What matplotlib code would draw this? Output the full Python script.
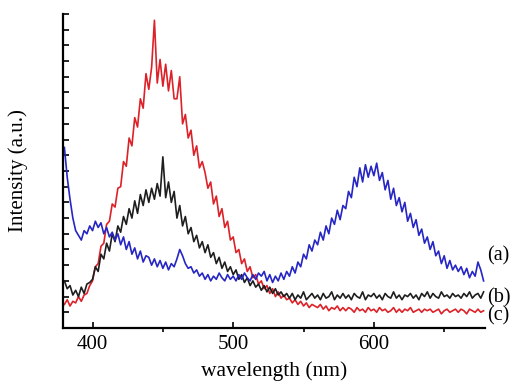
import numpy as np
import matplotlib
matplotlib.use('Agg')
import matplotlib.pyplot as plt
from matplotlib.ticker import MultipleLocator

font = {'family': 'Liberation Serif', 'size': 15}
matplotlib.rc('font', **font)

# wavelength grid, 2 nm steps (380 ... 678 nm)
wavelength = np.arange(380, 680, 2)

# (a) blue spectrum (a.u.)
spec_a = [11.5, 9.6, 8.2, 7.0, 6.2, 5.9, 5.6, 6.2, 6.0, 6.5,
          6.2, 6.8, 6.4, 6.7, 6.0, 6.4, 5.8, 6.1, 5.6, 6.0,
          5.3, 5.8, 5.0, 5.5, 4.7, 5.1, 4.4, 4.9, 4.2, 4.6,
          4.5, 4.0, 4.4, 3.9, 4.3, 3.8, 4.2, 3.7, 4.1, 3.9,
          4.4, 5.0, 4.6, 4.1, 3.8, 3.9, 3.5, 3.7, 3.3, 3.5,
          3.1, 3.4, 3.0, 3.3, 3.1, 3.5, 3.2, 3.0, 3.4, 3.1,
          3.3, 3.0, 3.4, 3.1, 3.5, 3.2, 3.0, 3.4, 3.1, 3.5,
          3.3, 3.6, 3.0, 3.4, 2.9, 3.3, 3.0, 3.5, 3.1, 3.6,
          3.3, 3.9, 3.5, 4.2, 3.9, 4.7, 4.4, 5.3, 4.9, 5.6,
          5.3, 6.1, 5.6, 6.5, 6.0, 7.0, 6.6, 7.5, 6.9, 7.8,
          7.6, 8.7, 8.3, 9.6, 9.0, 10.2, 9.3, 10.4, 9.6, 10.3,
          9.7, 10.5, 9.4, 9.9, 8.8, 9.4, 8.2, 8.9, 7.8, 8.3,
          7.4, 8.0, 6.8, 7.3, 6.4, 6.9, 5.9, 6.3, 5.4, 5.8,
          5.0, 5.5, 4.6, 4.9, 4.1, 4.6, 3.8, 4.3, 3.7, 4.0,
          3.6, 3.9, 3.4, 3.8, 3.2, 3.6, 3.3, 4.2, 3.7, 3.0]

# (b) black spectrum
spec_b = [3.0, 2.5, 2.7, 2.1, 2.4, 2.0, 2.6, 2.2, 2.8, 2.9,
          3.1, 3.9, 3.6, 4.7, 4.4, 5.4, 4.9, 6.0, 5.5, 6.5,
          6.1, 7.1, 6.6, 7.6, 7.0, 8.1, 7.3, 8.5, 7.8, 8.8,
          8.0, 8.9, 8.2, 9.2, 8.4, 10.9, 8.3, 9.3, 8.0, 8.7,
          7.0, 7.8, 6.5, 7.1, 6.0, 6.4, 5.5, 5.9, 5.1, 5.5,
          4.8, 5.3, 4.5, 4.8, 4.1, 4.5, 3.8, 4.2, 3.6, 3.9,
          3.4, 3.7, 3.1, 3.4, 2.9, 3.2, 2.7, 3.0, 2.6, 2.8,
          2.4, 2.7, 2.3, 2.6, 2.2, 2.5, 2.1, 2.3, 2.0, 2.2,
          1.9, 2.2, 1.8, 2.1, 1.9, 2.3, 1.8, 2.0, 2.2, 1.9,
          2.1, 1.8, 2.2, 1.9, 2.0, 2.3, 1.8, 2.1, 1.9, 2.2,
          1.9, 2.1, 1.8, 2.2, 2.0, 1.9, 2.3, 1.8, 2.1, 2.0,
          2.2, 1.9, 2.1, 1.8, 2.2, 2.0, 1.9, 2.3, 1.9, 2.1,
          1.8, 2.1, 2.0, 2.2, 1.9, 2.1, 1.8, 2.2, 2.0, 2.3,
          1.9, 2.2, 2.0, 1.9, 2.3, 2.0, 2.1, 1.9, 2.2, 2.0,
          2.1, 1.9, 2.2, 2.0, 2.3, 1.9, 2.1, 2.2, 1.9, 2.3]

# (c) red spectrum
spec_c = [1.5, 1.8, 1.4, 1.7, 1.6, 2.0, 1.7, 2.1, 2.2, 2.7,
          3.0, 3.9, 4.1, 5.2, 5.4, 6.6, 6.8, 7.9, 7.7, 8.9,
          9.0, 10.6, 10.3, 12.1, 11.6, 13.4, 12.8, 14.6, 14.0, 16.2,
          15.2, 16.6, 19.6, 15.6, 17.1, 15.4, 16.8, 15.1, 16.4, 14.6,
          14.6, 16.0, 13.0, 13.6, 12.1, 12.6, 11.0, 11.6, 10.2, 10.6,
          9.9, 8.9, 9.3, 7.9, 8.4, 7.1, 7.6, 6.4, 6.8, 5.6,
          5.8, 4.8, 5.0, 4.1, 4.4, 3.6, 3.9, 3.2, 3.4, 2.8,
          3.0, 2.5, 2.7, 2.2, 2.5, 2.0, 2.3, 1.9, 2.1, 1.8,
          1.9, 1.6, 1.8, 1.5, 1.7, 1.4, 1.6, 1.3, 1.5, 1.4,
          1.3, 1.5, 1.2, 1.4, 1.1, 1.3, 1.2, 1.4, 1.1, 1.3,
          1.1, 1.3, 1.2, 1.0, 1.3, 1.1, 1.2, 1.0, 1.3, 1.1,
          1.2, 1.0, 1.3, 1.1, 1.2, 1.0, 1.1, 1.3, 1.0, 1.2,
          1.0, 1.2, 1.1, 1.3, 1.0, 1.1, 1.2, 1.0, 1.2, 1.1,
          1.2, 1.0, 1.1, 1.2, 0.9, 1.1, 1.2, 1.0, 1.1, 1.2,
          1.0, 1.2, 1.1, 0.9, 1.2, 1.1, 1.0, 1.2, 1.0, 1.1]

curve_labels = ['(a)', '(b)', '(c)']

fig = plt.figure(figsize=(5.13, 3.82), dpi=100)
ax = fig.add_axes([0.1228, 0.1414, 0.8226, 0.822])

ax.plot(wavelength, spec_c, color='#dc2228', linewidth=1.2)
ax.plot(wavelength, spec_b, color='#1e1e1e', linewidth=1.2)
ax.plot(wavelength, spec_a, color='#2626c4', linewidth=1.2)

ax.set_xlim([379, 679])
ax.set_ylim([0, 20])
ax.xaxis.set_major_locator(MultipleLocator(100))
ax.xaxis.set_minor_locator(MultipleLocator(50))
ax.yaxis.set_major_locator(MultipleLocator(1))
ax.set_yticklabels([])
ax.tick_params(axis='y', direction='in', length=4, width=1.2)
ax.tick_params(axis='x', which='major', direction='in', length=4, width=1.2,
               pad=5)
ax.tick_params(axis='x', which='minor', direction='out', length=3, width=1.2)

for s in ['top', 'right']:
    ax.spines[s].set_visible(False)
for s in ['left', 'bottom']:
    ax.spines[s].set_linewidth(1.6)

ax.set_xlabel('wavelength (nm)', fontsize=15.5, labelpad=5)
ax.set_ylabel('Intensity (a.u.)', fontsize=15, labelpad=22)

for lab, yy in zip(curve_labels, [0.330, 0.220, 0.173]):
    fig.text(0.949, yy, lab, fontsize=14.5, va='center', ha='left')

fig.savefig('out.png', dpi=100)
